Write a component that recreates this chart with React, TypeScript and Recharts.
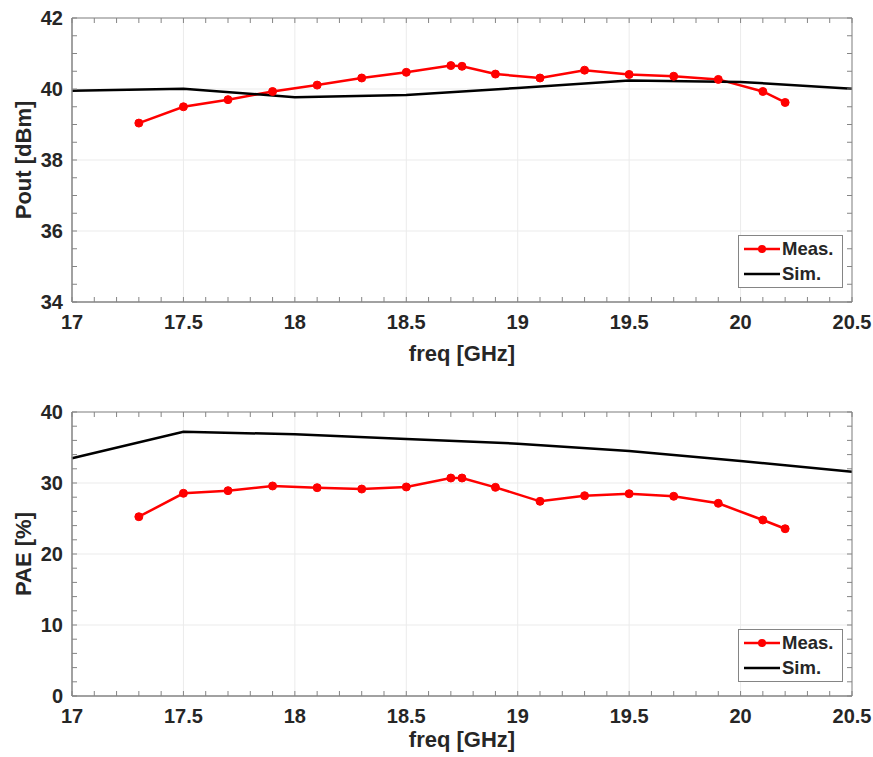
import React from "react";
import {
  LineChart,
  Line,
  XAxis,
  YAxis,
  CartesianGrid,
  Legend,
  Label,
} from "recharts";

// measured points
const measFreq = [17.3, 17.5, 17.7, 17.9, 18.1, 18.3, 18.5, 18.7, 18.75, 18.9, 19.1, 19.3, 19.5, 19.7, 19.9, 20.1, 20.2];
const measPout = [39.04, 39.5, 39.7, 39.93, 40.11, 40.31, 40.47, 40.66, 40.64, 40.42, 40.31, 40.53, 40.41, 40.36, 40.27, 39.93, 39.62];
const measPae = [25.25, 28.55, 28.92, 29.58, 29.34, 29.15, 29.44, 30.7, 30.7, 29.39, 27.42, 28.21, 28.49, 28.13, 27.14, 24.79, 23.56];

// simulation
const simFreq = [17, 17.5, 18, 18.5, 19, 19.5, 20, 20.5];
const simPout = [39.95, 40.01, 39.77, 39.83, 40.03, 40.24, 40.2, 40.01];
const simPae = [33.48, 37.23, 36.86, 36.2, 35.54, 34.51, 33.1, 31.6];

const freqTicks = [17, 17.5, 18, 18.5, 19, 19.5, 20, 20.5];
const freqMinor = [
  17, 17.1, 17.2, 17.3, 17.4, 17.5, 17.6, 17.7, 17.8, 17.9, 18, 18.1, 18.2, 18.3, 18.4, 18.5, 18.6, 18.7,
  18.8, 18.9, 19, 19.1, 19.2, 19.3, 19.4, 19.5, 19.6, 19.7, 19.8, 19.9, 20, 20.1, 20.2, 20.3, 20.4, 20.5,
];
const poutTicks = [34, 36, 38, 40, 42];
const poutMinor = [34, 34.5, 35, 35.5, 36, 36.5, 37, 37.5, 38, 38.5, 39, 39.5, 40, 40.5, 41, 41.5, 42];
const paeTicks = [0, 10, 20, 30, 40];
const paeMinor = [0, 2, 4, 6, 8, 10, 12, 14, 16, 18, 20, 22, 24, 26, 28, 30, 32, 34, 36, 38, 40];

const FONT = "'Liberation Sans', Arial, Helvetica, sans-serif";
const TEXT = "#262626";
const AXIS = "#858585";
const GRID = "#ebebeb";
const RED = "#ff0000";

const zip = (xs: number[], ys: number[]) => xs.map((f, i) => ({ f, v: ys[i] }));

const xTitle = (dy: number) => (props: any) => {
  const vb = props.viewBox;
  return (
    <text
      x={vb.x + vb.width / 2}
      y={vb.y + dy}
      textAnchor="middle"
      fontFamily={FONT}
      fontWeight="bold"
      fontSize={22}
      fill={TEXT}
    >
      freq [GHz]
    </text>
  );
};

const yTitle = (title: string) => (props: any) => {
  const vb = props.viewBox;
  const cy = vb.y + vb.height / 2;
  return (
    <text
      transform={`translate(23,${cy}) rotate(-90)`}
      dy="0.35em"
      textAnchor="middle"
      fontFamily={FONT}
      fontWeight="bold"
      fontSize={22}
      fill={TEXT}
    >
      {title}
    </text>
  );
};

const LegendBox = (props: any) => {
  const items = (props.payload || []).filter((it: any) => it.type !== "none");
  return (
    <div
      style={{
        width: 103,
        height: 51,
        border: `1px solid ${AXIS}`,
        background: "#fff",
        fontFamily: FONT,
        fontWeight: "bold",
        fontSize: 18.5,
        color: TEXT,
        boxSizing: "content-box",
      }}
    >
      {items.map((it: any) => (
        <div key={it.value} style={{ display: "flex", alignItems: "center", height: 25.5, paddingLeft: 4 }}>
          <svg width={37} height={12} style={{ marginRight: 2, flex: "none" }}>
            <line x1={1} y1={6} x2={37} y2={6} stroke={it.color} strokeWidth={2.5} />
            {it.value === "Meas." && <circle cx={19} cy={6} r={4} fill={it.color} />}
          </svg>
          <span>{it.value}</span>
        </div>
      ))}
    </div>
  );
};

type PanelProps = {
  top: number;
  height: number;
  bottom: number;
  titleDy: number;
  meas: number[];
  sim: number[];
  domain: [number, number];
  ticks: number[];
  minor: number[];
  title: string;
};

function Panel(p: PanelProps) {
  const tickStyle = { fontFamily: FONT, fontWeight: "bold" as const, fontSize: 20, fill: TEXT };
  const measData = zip(measFreq, p.meas);
  const minorAxis = {
    type: "number" as const,
    mirror: true,
    tickSize: 5,
    tickLine: { stroke: AXIS },
    axisLine: { stroke: AXIS },
    tickFormatter: () => "",
    interval: 0 as const,
    allowDataOverflow: true,
  };
  return (
    <div style={{ position: "absolute", left: 0, top: p.top }}>
      <LineChart width={873} height={p.height} margin={{ top: 18, right: 21, left: 0, bottom: p.bottom }}>
        <CartesianGrid xAxisId="x" yAxisId="y" stroke={GRID} strokeWidth={1} />
        <XAxis
          xAxisId="x"
          type="number"
          dataKey="f"
          domain={[17, 20.5]}
          ticks={freqTicks}
          height={61}
          tickLine={false}
          axisLine={{ stroke: AXIS }}
          tickSize={0}
          tickMargin={13}
          tick={tickStyle}
          interval={0}
        >
          <Label content={xTitle(p.titleDy)} />
        </XAxis>
        <XAxis xAxisId="xb" dataKey="f" domain={[17, 20.5]} ticks={freqMinor} {...minorAxis} />
        <XAxis xAxisId="xt" orientation="top" dataKey="f" domain={[17, 20.5]} ticks={freqMinor} {...minorAxis} />
        <YAxis
          yAxisId="y"
          type="number"
          domain={p.domain}
          ticks={p.ticks}
          width={72}
          tickLine={false}
          axisLine={{ stroke: AXIS }}
          tickSize={0}
          tickMargin={9}
          tick={tickStyle}
          interval={0}
        >
          <Label content={yTitle(p.title)} />
        </YAxis>
        <YAxis yAxisId="yl" domain={p.domain} ticks={p.minor} {...minorAxis} />
        <YAxis yAxisId="yr" orientation="right" domain={p.domain} ticks={p.minor} {...minorAxis} />
        {/* invisible series so the tick-only axes get their scales */}
        <Line xAxisId="xb" yAxisId="yl" data={measData} dataKey="v" stroke="none" dot={false} activeDot={false} legendType="none" isAnimationActive={false} />
        <Line xAxisId="xt" yAxisId="yr" data={measData} dataKey="v" stroke="none" dot={false} activeDot={false} legendType="none" isAnimationActive={false} />
        <Line
          xAxisId="x"
          yAxisId="y"
          name="Meas."
          data={measData}
          dataKey="v"
          stroke={RED}
          strokeWidth={2.5}
          dot={{ r: 4, fill: RED, stroke: RED, strokeWidth: 1 }}
          isAnimationActive={false}
        />
        <Line
          xAxisId="x"
          yAxisId="y"
          name="Sim."
          data={zip(simFreq, p.sim)}
          dataKey="v"
          stroke="#000"
          strokeWidth={2.5}
          dot={false}
          isAnimationActive={false}
        />
        <Legend
          layout="vertical"
          align="center"
          verticalAlign="middle"
          content={LegendBox}
          wrapperStyle={{ left: 738, top: 235, width: "auto", height: "auto" }}
        />
      </LineChart>
    </div>
  );
}

export default function App() {
  return (
    <div style={{ position: "absolute", left: 0, top: 0, width: 873, height: 757, overflow: "hidden", background: "#fff" }}>
      <Panel top={0} height={380} bottom={17} titleDy={59} meas={measPout} sim={simPout} domain={[34, 42]} ticks={poutTicks} minor={poutMinor} title="Pout [dBm]" />
      <Panel top={394} height={363} bottom={0} titleDy={51} meas={measPae} sim={simPae} domain={[0, 40]} ticks={paeTicks} minor={paeMinor} title="PAE [%]" />
    </div>
  );
}
